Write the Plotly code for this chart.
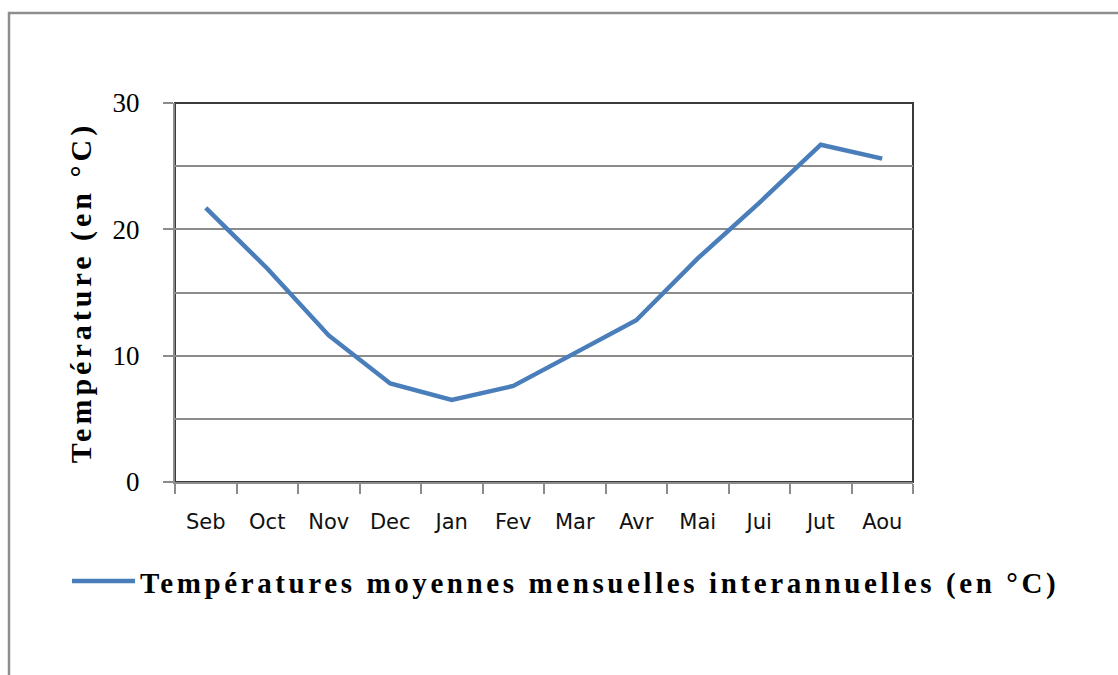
import plotly.graph_objects as go

# Monthly mean temperatures (hydrological year, September to August)
mois = ["Seb", "Oct", "Nov", "Dec", "Jan", "Fev", "Mar", "Avr", "Mai", "Jui", "Jut", "Aou"]
temperatures = [21.7, 16.9, 11.6, 7.8, 6.5, 7.6, 10.2, 12.8, 17.7, 22.1, 26.7, 25.6]
y_ticks = [0, 10, 20, 30]

serie_nom = "Températures moyennes mensuelles interannuelles (en °C)"
titre_y = "Température (en °C)"

W, H = 1118, 675
ML, MR, MT, MB = 175, 205, 103, 193
PW, PH = W - ML - MR, H - MT - MB

BLUE = "#4A7EBB"
GRID = "#8C8C8C"


def px_x(px):
    return (px - ML) / PW


def px_y(py):
    return (H - MB - py) / PH


fig = go.Figure()
fig.add_trace(go.Scatter(
    x=mois, y=temperatures, mode="lines",
    line=dict(color=BLUE, width=4.5),
    name=serie_nom, showlegend=False,
))

fig.update_layout(
    width=W, height=H,
    margin=dict(l=ML, r=MR, t=MT, b=MB, autoexpand=False),
    paper_bgcolor="white", plot_bgcolor="white",
    xaxis=dict(
        type="category", tickson="boundaries",
        range=[-0.5, len(mois) - 0.5],
        ticks="outside", ticklen=10, tickwidth=1.5, tickcolor=GRID,
        showline=True, linecolor=GRID, linewidth=2,
        showgrid=False, zeroline=False,
        tickfont=dict(family="DejaVu Sans", size=21, color="#111111"),
        ticklabelstandoff=20,
    ),
    yaxis=dict(
        range=[0, 30], tickvals=y_ticks, ticktext=[str(v) for v in y_ticks],
        ticks="outside", ticklen=10, tickwidth=1.5, tickcolor=GRID,
        showline=True, linecolor=GRID, linewidth=2,
        showgrid=True, gridcolor=GRID, gridwidth=1.5,
        minor=dict(dtick=5, tick0=0, showgrid=True, gridcolor=GRID, gridwidth=1.5, ticks=""),
        zeroline=False,
        tickfont=dict(family="Liberation Serif", size=27, color="black"),
        ticklabelstandoff=18,
        title=dict(
            text='<span style="letter-spacing:4px">' + titre_y + "</span>",
            font=dict(family="Liberation Serif", size=30, color="black", weight="bold"),
            standoff=12,
        ),
    ),
)

shapes = []
# plot-area frame (dark top and right edges)
shapes.append(dict(type="rect", xref="paper", yref="paper", x0=0, x1=1, y0=0, y1=1,
                   line=dict(color="#3A3A3A", width=2), layer="below"))
# outer chart border
shapes.append(dict(type="rect", xref="paper", yref="paper",
                   x0=px_x(9), x1=px_x(W + 20), y0=px_y(H + 20), y1=px_y(13),
                   line=dict(color="#8E8E8E", width=2.5), layer="below"))
# legend sample line
shapes.append(dict(type="line", xref="paper", yref="paper",
                   x0=px_x(72), x1=px_x(135), y0=px_y(581), y1=px_y(581),
                   line=dict(color=BLUE, width=4.5)))
fig.update_layout(shapes=shapes)

fig.add_annotation(
    xref="paper", yref="paper", x=px_x(138), y=px_y(583),
    xanchor="left", yanchor="middle", showarrow=False,
    text='<span style="letter-spacing:3.6px">' + serie_nom + "</span>",
    font=dict(family="Liberation Serif", size=29, color="black", weight="bold"),
)

fig.write_html("out.html")
